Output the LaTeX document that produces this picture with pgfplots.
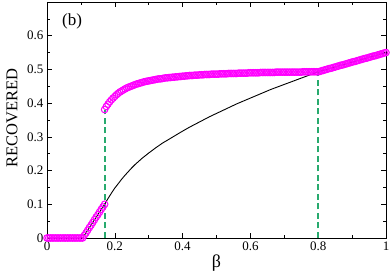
\documentclass[border=0pt]{standalone}
\usepackage{pgfplots}
\pgfplotsset{compat=1.18}
\usepackage{fontspec}
\setmainfont{Liberation Serif}
\definecolor{mag}{RGB}{255,0,255}
\definecolor{dgreen}{RGB}{40,170,110}
\begin{document}
\begin{tikzpicture}
\begin{axis}[
  scale only axis,
  width=339bp, height=236bp,
  xmin=0, xmax=1, ymin=0, ymax=0.7,
  xtick={0,0.2,0.4,0.6,0.8,1},
  xticklabels={0,0.2,0.4,0.6,0.8,1},
  ytick={0,0.1,0.2,0.3,0.4,0.5,0.6},
  yticklabels={0,0.1,0.2,0.3,0.4,0.5,0.6},
  minor xtick={0.1,0.3,0.5,0.7,0.9},
  minor ytick={0.05,0.15,0.25,0.35,0.45,0.55,0.65},
  /pgf/number format/assume math mode=true,
  tick align=inside,
  major tick length=5bp, minor tick length=3bp,
  every tick/.style={black, line width=0.6bp},
  axis line style={line width=0.9bp},
  xtick pos=both, ytick pos=both,
  xticklabel pos=lower, yticklabel pos=left,
  tick label style={font=\fontsize{13bp}{15bp}\selectfont},
  xticklabel style={yshift=0bp},
  yticklabel style={xshift=0bp},
  every axis y label/.style={at={(axis description cs:0,0.51)}, xshift=-35bp, rotate=90, anchor=center, font=\fontsize{16.5bp}{18bp}\selectfont},
  every axis x label/.style={at={(axis description cs:0.5,0)}, yshift=-25bp, anchor=center, font=\fontsize{18bp}{20bp}\selectfont},
  xlabel={β},
  ylabel={RECOVERED},
  clip=false,
]
\coordinate (sw) at (rel axis cs:0,0);
\coordinate (ne) at (rel axis cs:1,1);
% dashed transition lines
\addplot[dgreen, line width=1.5bp, dash pattern=on 6bp off 3.5bp] coordinates {(0.171,0) (0.171,0.381)};
\addplot[dgreen, line width=1.5bp, dash pattern=on 6bp off 3.5bp] coordinates {(0.80,0) (0.80,0.493)};
% black curve
\addplot[black, line width=0.9bp] coordinates {
(0,0) (0.1,0) (0.105,0) (0.17,0.100) (0.18,0.117) (0.19,0.133) (0.20,0.148)
(0.21,0.161) (0.22,0.174) (0.23,0.186) (0.24,0.197) (0.25,0.208) (0.26,0.218)
(0.27,0.227) (0.28,0.236) (0.29,0.244) (0.30,0.252) (0.32,0.267) (0.34,0.281)
(0.36,0.293) (0.38,0.305) (0.40,0.317) (0.42,0.3285) (0.44,0.339) (0.46,0.3495)
(0.48,0.360) (0.50,0.3695) (0.52,0.379) (0.54,0.3885) (0.56,0.398) (0.58,0.4065)
(0.60,0.415) (0.62,0.4235) (0.64,0.432) (0.66,0.4405) (0.68,0.448) (0.70,0.4555)
(0.72,0.463) (0.74,0.4705) (0.76,0.478) (0.78,0.4855) (0.80,0.493) (1.00,0.550)
};
% magenta circles, lower branch
\addplot[only marks, mark=o, mark size=3.3bp, mag, mark options={line width=1bp}] coordinates {
(0,0) (0.005,0) (0.01,0) (0.015,0) (0.02,0) (0.025,0) (0.03,0) (0.035,0) (0.04,0)
(0.045,0) (0.05,0) (0.055,0) (0.06,0) (0.065,0) (0.07,0) (0.075,0) (0.08,0) (0.085,0)
(0.09,0) (0.095,0) (0.1,0) (0.105,0) (0.11,0.008) (0.115,0.015) (0.12,0.023)
(0.125,0.031) (0.13,0.038) (0.135,0.046) (0.14,0.054) (0.145,0.062) (0.15,0.069)
(0.155,0.077) (0.16,0.085) (0.165,0.092) (0.17,0.100)
};
% magenta circles, upper branch
\addplot[only marks, mark=o, mark size=3.3bp, mag, mark options={line width=1bp}] coordinates {
(0.17,0.381) (0.175,0.390) (0.18,0.397) (0.185,0.404) (0.19,0.410) (0.195,0.415)
(0.20,0.420) (0.205,0.425) (0.21,0.429) (0.215,0.433) (0.22,0.436) (0.225,0.439)
(0.23,0.442) (0.235,0.445) (0.24,0.447) (0.245,0.449) (0.25,0.451) (0.255,0.453)
(0.26,0.455) (0.265,0.457) (0.27,0.458) (0.275,0.460) (0.28,0.461) (0.285,0.463)
(0.29,0.464) (0.295,0.465) (0.30,0.466) (0.305,0.467) (0.31,0.468) (0.315,0.469)
(0.32,0.470) (0.325,0.471) (0.33,0.472) (0.335,0.472) (0.34,0.473) (0.345,0.474)
(0.35,0.475) (0.355,0.475) (0.36,0.476) (0.365,0.476) (0.37,0.477) (0.375,0.477)
(0.38,0.478) (0.385,0.478) (0.39,0.479) (0.395,0.479) (0.40,0.480) (0.405,0.480)
(0.41,0.481) (0.415,0.481) (0.42,0.482) (0.425,0.482) (0.43,0.482) (0.435,0.483)
(0.44,0.483) (0.445,0.483) (0.45,0.484) (0.455,0.484) (0.46,0.484) (0.465,0.485)
(0.47,0.485) (0.475,0.485) (0.48,0.485) (0.485,0.486) (0.49,0.486) (0.495,0.486)
(0.50,0.486) (0.505,0.486) (0.51,0.487) (0.515,0.487) (0.52,0.487) (0.525,0.487)
(0.53,0.487) (0.535,0.488) (0.54,0.488) (0.545,0.488) (0.55,0.488) (0.555,0.488)
(0.56,0.488) (0.565,0.489) (0.57,0.489) (0.575,0.489) (0.58,0.489) (0.585,0.489)
(0.59,0.489) (0.595,0.490) (0.60,0.490) (0.605,0.490) (0.61,0.490) (0.615,0.490)
(0.62,0.490) (0.625,0.490) (0.63,0.491) (0.635,0.491) (0.64,0.491) (0.645,0.491)
(0.65,0.491) (0.655,0.491) (0.66,0.491) (0.665,0.491) (0.67,0.491) (0.675,0.492)
(0.68,0.492) (0.685,0.492) (0.69,0.492) (0.695,0.492) (0.70,0.492) (0.705,0.492)
(0.71,0.492) (0.715,0.492) (0.72,0.492) (0.725,0.492) (0.73,0.492) (0.735,0.492)
(0.74,0.492) (0.745,0.492) (0.75,0.492) (0.755,0.493) (0.76,0.493) (0.765,0.493)
(0.77,0.493) (0.775,0.493) (0.78,0.493) (0.785,0.493) (0.79,0.493) (0.795,0.493)
(0.80,0.493) (0.805,0.494) (0.81,0.496) (0.815,0.497) (0.82,0.499) (0.825,0.500)
(0.83,0.502) (0.835,0.503) (0.84,0.504) (0.845,0.506) (0.85,0.507) (0.855,0.509)
(0.86,0.510) (0.865,0.512) (0.87,0.513) (0.875,0.514) (0.88,0.516) (0.885,0.517)
(0.89,0.519) (0.895,0.520) (0.90,0.522) (0.905,0.523) (0.91,0.524) (0.915,0.526)
(0.92,0.527) (0.925,0.529) (0.93,0.530) (0.935,0.532) (0.94,0.533) (0.945,0.534)
(0.95,0.536) (0.955,0.537) (0.96,0.539) (0.965,0.540) (0.97,0.541) (0.975,0.543)
(0.98,0.544) (0.985,0.546) (0.99,0.547) (0.995,0.549) (1.00,0.550)
};
\node[font=\fontsize{17bp}{19bp}\selectfont, anchor=center] at (axis cs:0.074,0.642) {(b)};
\end{axis}
\pgfresetboundingbox
\path ([xshift=-47bp,yshift=-36bp]sw) rectangle ([xshift=4bp,yshift=2bp]ne);
\end{tikzpicture}
\end{document}
